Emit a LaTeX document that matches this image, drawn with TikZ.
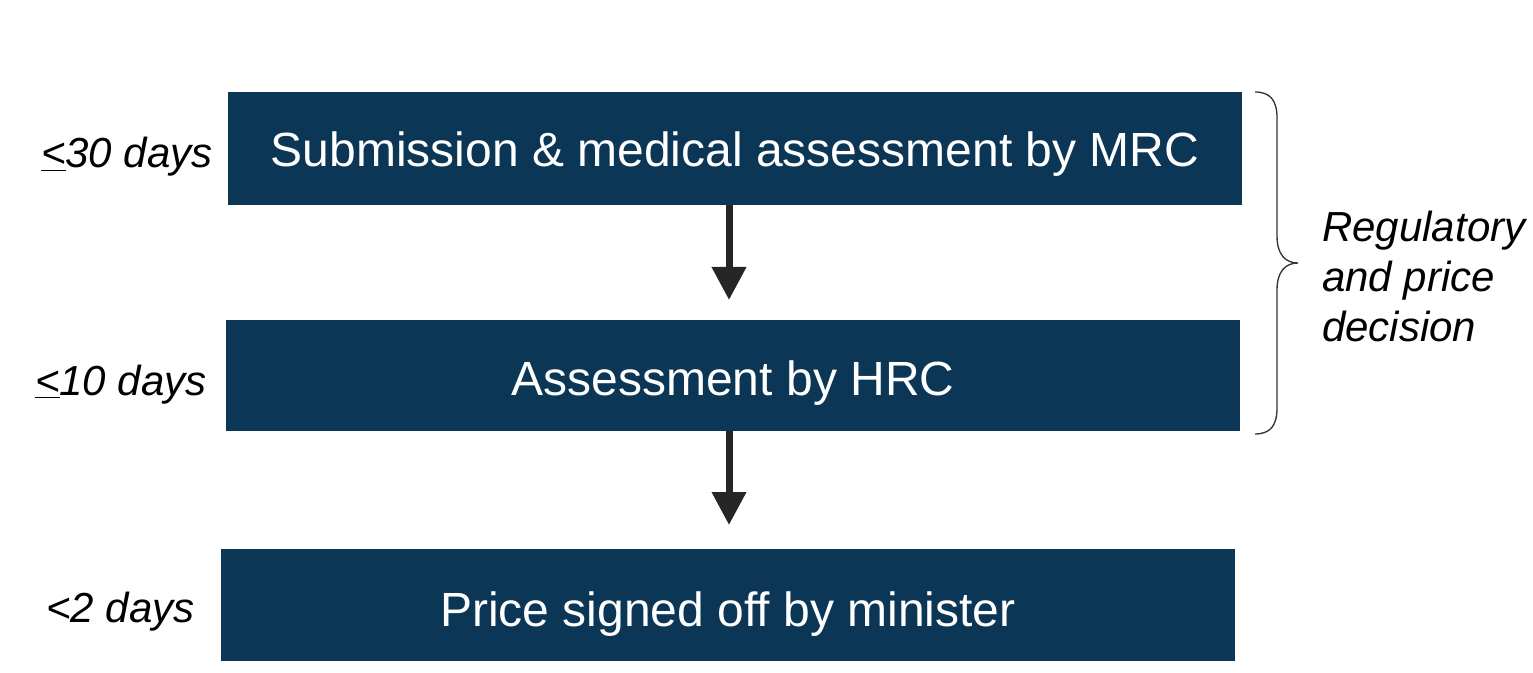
\documentclass[tikz,border=0pt]{standalone}
\usepackage{fontspec}
\setmainfont{Liberation Sans}
\usetikzlibrary{arrows.meta}
\definecolor{boxblue}{RGB}{11,54,86}
\definecolor{arrgray}{RGB}{38,38,38}
\begin{document}
\begin{tikzpicture}[x=0.75pt,y=-0.75pt,
  stepbox/.style={fill=boxblue,draw=none,inner sep=0pt,outer sep=0pt,minimum width=760.5pt,text=white,text depth=0pt,font=\fontsize{36pt}{43pt}\selectfont},
  timelbl/.style={anchor=base east,inner sep=0pt,font=\fontsize{31.5pt}{38pt}\selectfont\itshape},
  flowarrow/.style={draw=arrgray,line width=5.25pt,-{Triangle[width=24.75pt,length=24.75pt]}},
  bracestyle/.style={draw=black!80,line width=1pt}]
\useasboundingbox (0,0) rectangle (1533,673);
\node[stepbox,minimum height=84.75pt,text height=27.75pt] (b1) at (735,148.5) {Submission \& medical assessment by MRC};
\node[stepbox,minimum height=83.25pt,text height=29.25pt] (b2) at (733,375.5) {Assessment by HRC};
\node[stepbox,minimum height=84pt,text height=31.5pt] (b3) at (728,605) {Price signed off by minister};
\node[timelbl] (t1) at (213,168) {\underline{<}30 days};
\node[timelbl] (t2) at (207,395) {\underline{<}10 days};
\node[timelbl] (t3) at (195,622) {<2 days};
\draw[flowarrow,shorten >=15pt] ([xshift=-4.5pt]b1.south) -- ([xshift=-4.5pt]b1.south |- b2.north);
\draw[flowarrow,shorten >=18pt] ([xshift=-3pt]b2.south) -- ([xshift=-3pt]b2.south |- b3.north);
\coordinate (brtop) at (1255,92);
\coordinate (brtip) at (1298,263);
\coordinate (brbot) at (1255,434);
\draw[bracestyle] (brtop) .. controls (1270,92) and (1277,100) .. (1277,118)
  -- (1277,236) .. controls (1277,254) and (1285,263) .. (brtip)
  .. controls (1285,263) and (1277,272) .. (1277,290)
  -- (1277,408) .. controls (1277,426) and (1270,434) .. (brbot);
\node[anchor=west,align=left,inner sep=0pt,font=\fontsize{31.5pt}{37.5pt}\selectfont\itshape] (reg) at (1322,276) {Regulatory\\and price\\decision};
\end{tikzpicture}
\end{document}
